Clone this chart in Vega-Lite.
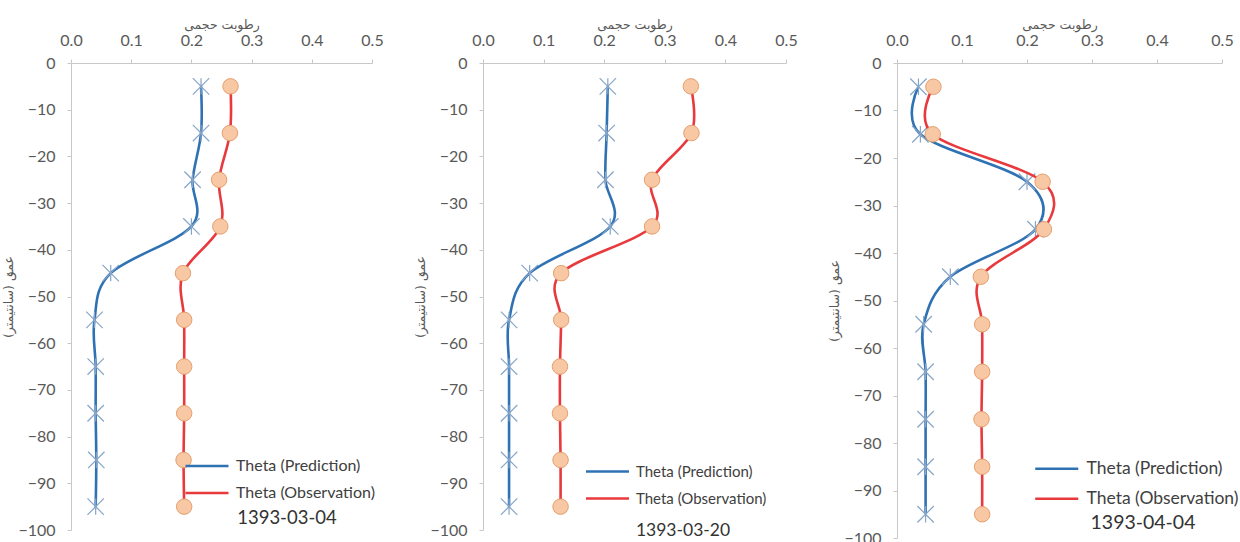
{
  "$schema": "https://vega.github.io/schema/vega-lite/v6.json",
  "autosize": {"type": "pad"},
  "padding": {"left": 2, "top": 18, "right": 0, "bottom": 0},
  "background": "white",
  "bounds": "flush",
  "spacing": 111,
  "data": {"values": [
    {"date": "1393-03-04", "series": "Theta (Prediction)", "depth": -5, "theta": 0.216},
    {"date": "1393-03-04", "series": "Theta (Prediction)", "depth": -15, "theta": 0.216},
    {"date": "1393-03-04", "series": "Theta (Prediction)", "depth": -25, "theta": 0.202},
    {"date": "1393-03-04", "series": "Theta (Prediction)", "depth": -35, "theta": 0.200},
    {"date": "1393-03-04", "series": "Theta (Prediction)", "depth": -45, "theta": 0.066},
    {"date": "1393-03-04", "series": "Theta (Prediction)", "depth": -55, "theta": 0.039},
    {"date": "1393-03-04", "series": "Theta (Prediction)", "depth": -65, "theta": 0.041},
    {"date": "1393-03-04", "series": "Theta (Prediction)", "depth": -75, "theta": 0.041},
    {"date": "1393-03-04", "series": "Theta (Prediction)", "depth": -85, "theta": 0.042},
    {"date": "1393-03-04", "series": "Theta (Prediction)", "depth": -95, "theta": 0.041},
    {"date": "1393-03-04", "series": "Theta (Observation)", "depth": -5, "theta": 0.265},
    {"date": "1393-03-04", "series": "Theta (Observation)", "depth": -15, "theta": 0.264},
    {"date": "1393-03-04", "series": "Theta (Observation)", "depth": -25, "theta": 0.246},
    {"date": "1393-03-04", "series": "Theta (Observation)", "depth": -35, "theta": 0.248},
    {"date": "1393-03-04", "series": "Theta (Observation)", "depth": -45, "theta": 0.186},
    {"date": "1393-03-04", "series": "Theta (Observation)", "depth": -55, "theta": 0.188},
    {"date": "1393-03-04", "series": "Theta (Observation)", "depth": -65, "theta": 0.188},
    {"date": "1393-03-04", "series": "Theta (Observation)", "depth": -75, "theta": 0.188},
    {"date": "1393-03-04", "series": "Theta (Observation)", "depth": -85, "theta": 0.187},
    {"date": "1393-03-04", "series": "Theta (Observation)", "depth": -95, "theta": 0.188},
    {"date": "1393-03-20", "series": "Theta (Prediction)", "depth": -5, "theta": 0.206},
    {"date": "1393-03-20", "series": "Theta (Prediction)", "depth": -15, "theta": 0.204},
    {"date": "1393-03-20", "series": "Theta (Prediction)", "depth": -25, "theta": 0.202},
    {"date": "1393-03-20", "series": "Theta (Prediction)", "depth": -35, "theta": 0.210},
    {"date": "1393-03-20", "series": "Theta (Prediction)", "depth": -45, "theta": 0.077},
    {"date": "1393-03-20", "series": "Theta (Prediction)", "depth": -55, "theta": 0.043},
    {"date": "1393-03-20", "series": "Theta (Prediction)", "depth": -65, "theta": 0.043},
    {"date": "1393-03-20", "series": "Theta (Prediction)", "depth": -75, "theta": 0.043},
    {"date": "1393-03-20", "series": "Theta (Prediction)", "depth": -85, "theta": 0.043},
    {"date": "1393-03-20", "series": "Theta (Prediction)", "depth": -95, "theta": 0.043},
    {"date": "1393-03-20", "series": "Theta (Observation)", "depth": -5, "theta": 0.343},
    {"date": "1393-03-20", "series": "Theta (Observation)", "depth": -15, "theta": 0.344},
    {"date": "1393-03-20", "series": "Theta (Observation)", "depth": -25, "theta": 0.279},
    {"date": "1393-03-20", "series": "Theta (Observation)", "depth": -35, "theta": 0.279},
    {"date": "1393-03-20", "series": "Theta (Observation)", "depth": -45, "theta": 0.129},
    {"date": "1393-03-20", "series": "Theta (Observation)", "depth": -55, "theta": 0.129},
    {"date": "1393-03-20", "series": "Theta (Observation)", "depth": -65, "theta": 0.127},
    {"date": "1393-03-20", "series": "Theta (Observation)", "depth": -75, "theta": 0.127},
    {"date": "1393-03-20", "series": "Theta (Observation)", "depth": -85, "theta": 0.128},
    {"date": "1393-03-20", "series": "Theta (Observation)", "depth": -95, "theta": 0.128},
    {"date": "1393-04-04", "series": "Theta (Prediction)", "depth": -5, "theta": 0.033},
    {"date": "1393-04-04", "series": "Theta (Prediction)", "depth": -15, "theta": 0.036},
    {"date": "1393-04-04", "series": "Theta (Prediction)", "depth": -25, "theta": 0.200},
    {"date": "1393-04-04", "series": "Theta (Prediction)", "depth": -35, "theta": 0.213},
    {"date": "1393-04-04", "series": "Theta (Prediction)", "depth": -45, "theta": 0.082},
    {"date": "1393-04-04", "series": "Theta (Prediction)", "depth": -55, "theta": 0.041},
    {"date": "1393-04-04", "series": "Theta (Prediction)", "depth": -65, "theta": 0.044},
    {"date": "1393-04-04", "series": "Theta (Prediction)", "depth": -75, "theta": 0.044},
    {"date": "1393-04-04", "series": "Theta (Prediction)", "depth": -85, "theta": 0.044},
    {"date": "1393-04-04", "series": "Theta (Prediction)", "depth": -95, "theta": 0.044},
    {"date": "1393-04-04", "series": "Theta (Observation)", "depth": -5, "theta": 0.056},
    {"date": "1393-04-04", "series": "Theta (Observation)", "depth": -15, "theta": 0.055},
    {"date": "1393-04-04", "series": "Theta (Observation)", "depth": -25, "theta": 0.224},
    {"date": "1393-04-04", "series": "Theta (Observation)", "depth": -35, "theta": 0.226},
    {"date": "1393-04-04", "series": "Theta (Observation)", "depth": -45, "theta": 0.129},
    {"date": "1393-04-04", "series": "Theta (Observation)", "depth": -55, "theta": 0.131},
    {"date": "1393-04-04", "series": "Theta (Observation)", "depth": -65, "theta": 0.131},
    {"date": "1393-04-04", "series": "Theta (Observation)", "depth": -75, "theta": 0.130},
    {"date": "1393-04-04", "series": "Theta (Observation)", "depth": -85, "theta": 0.131},
    {"date": "1393-04-04", "series": "Theta (Observation)", "depth": -95, "theta": 0.131}
  ]},
  "hconcat": [
    {
      "width": 301, "height": 467,
      "transform": [{"filter": {"field": "date", "equal": "1393-03-04"}}],
      "encoding": {
        "x": {"field": "theta", "type": "quantitative", "scale": {"domain": [0, 0.5], "nice": false},
          "axis": {"orient": "top", "values": [0, 0.1, 0.2, 0.3, 0.4, 0.5], "format": ".1f", "title": "رطوبت حجمی", "tickSize": 4, "labelPadding": 11, "titlePadding": 1, "labelFlush": false}},
        "y": {"field": "depth", "type": "quantitative", "scale": {"domain": [-100, 0], "nice": false},
          "axis": {"values": [0, -10, -20, -30, -40, -50, -60, -70, -80, -90, -100], "title": "عمق (سانتیمتر)", "tickSize": 4, "labelPadding": 12, "titlePadding": 2, "labelFlush": false}}
      },
      "layer": [
        {"transform": [{"filter": {"field": "series", "equal": "Theta (Prediction)"}}],
         "mark": {"type": "line", "interpolate": "cardinal", "strokeWidth": 2.6},
         "encoding": {"order": {"field": "depth", "sort": "descending"},
           "color": {"field": "series", "type": "nominal", "scale": {"domain": ["Theta (Prediction)", "Theta (Observation)"], "range": ["#2f72b4", "#e8393d"]},
             "legend": {"title": "1393-03-04", "legendX": 128, "legendY": 395, "labelFontSize": 16, "titleFontSize": 18.5, "titlePadding": 8}}}},
        {"transform": [{"filter": {"field": "series", "equal": "Theta (Prediction)"}}],
         "mark": {"type": "point", "shape": "M-1,-1L1,1M-1,1L1,-1M0,-1L0,1", "filled": false, "stroke": "#86a5c8", "strokeWidth": 1.2, "size": 270, "opacity": 1}},
        {"transform": [{"filter": {"field": "series", "equal": "Theta (Observation)"}}],
         "mark": {"type": "line", "interpolate": "cardinal", "strokeWidth": 2.6},
         "encoding": {"order": {"field": "depth", "sort": "descending"},
           "color": {"field": "series", "type": "nominal"}}},
        {"transform": [{"filter": {"field": "series", "equal": "Theta (Observation)"}}],
         "mark": {"type": "point", "shape": "circle", "filled": true, "fill": "#f8c7a4", "stroke": "#e4a06f", "strokeWidth": 1, "size": 240, "opacity": 1}}
      ]
    },
    {
      "width": 303, "height": 467,
      "transform": [{"filter": {"field": "date", "equal": "1393-03-20"}}],
      "encoding": {
        "x": {"field": "theta", "type": "quantitative", "scale": {"domain": [0, 0.5], "nice": false},
          "axis": {"orient": "top", "values": [0, 0.1, 0.2, 0.3, 0.4, 0.5], "format": ".1f", "title": "رطوبت حجمی", "tickSize": 4, "labelPadding": 11, "titlePadding": 1, "labelFlush": false}},
        "y": {"field": "depth", "type": "quantitative", "scale": {"domain": [-100, 0], "nice": false},
          "axis": {"values": [0, -10, -20, -30, -40, -50, -60, -70, -80, -90, -100], "title": "عمق (سانتیمتر)", "tickSize": 4, "labelPadding": 12, "titlePadding": 2, "labelFlush": false}}
      },
      "layer": [
        {"transform": [{"filter": {"field": "series", "equal": "Theta (Prediction)"}}],
         "mark": {"type": "line", "interpolate": "cardinal", "strokeWidth": 2.6},
         "encoding": {"order": {"field": "depth", "sort": "descending"},
           "color": {"field": "series", "type": "nominal", "scale": {"domain": ["Theta (Prediction)", "Theta (Observation)"], "range": ["#2f72b4", "#e8393d"]},
             "legend": {"title": "1393-03-20", "legendX": 117, "legendY": 401, "labelFontSize": 15, "titleFontSize": 17.5, "titlePadding": 15}}}},
        {"transform": [{"filter": {"field": "series", "equal": "Theta (Prediction)"}}],
         "mark": {"type": "point", "shape": "M-1,-1L1,1M-1,1L1,-1M0,-1L0,1", "filled": false, "stroke": "#86a5c8", "strokeWidth": 1.2, "size": 270, "opacity": 1}},
        {"transform": [{"filter": {"field": "series", "equal": "Theta (Observation)"}}],
         "mark": {"type": "line", "interpolate": "cardinal", "strokeWidth": 2.6},
         "encoding": {"order": {"field": "depth", "sort": "descending"},
           "color": {"field": "series", "type": "nominal"}}},
        {"transform": [{"filter": {"field": "series", "equal": "Theta (Observation)"}}],
         "mark": {"type": "point", "shape": "circle", "filled": true, "fill": "#f8c7a4", "stroke": "#e4a06f", "strokeWidth": 1, "size": 240, "opacity": 1}}
      ]
    },
    {
      "width": 325, "height": 475,
      "transform": [{"filter": {"field": "date", "equal": "1393-04-04"}}],
      "encoding": {
        "x": {"field": "theta", "type": "quantitative", "scale": {"domain": [0, 0.5], "nice": false},
          "axis": {"orient": "top", "values": [0, 0.1, 0.2, 0.3, 0.4, 0.5], "format": ".1f", "title": "رطوبت حجمی", "tickSize": 4, "labelPadding": 11, "titlePadding": 1, "labelFlush": false}},
        "y": {"field": "depth", "type": "quantitative", "scale": {"domain": [-100, 0], "nice": false},
          "axis": {"values": [0, -10, -20, -30, -40, -50, -60, -70, -80, -90, -100], "title": "عمق (سانتیمتر)", "tickSize": 4, "labelPadding": 12, "titlePadding": 2, "labelFlush": false}}
      },
      "layer": [
        {"transform": [{"filter": {"field": "series", "equal": "Theta (Prediction)"}}],
         "mark": {"type": "line", "interpolate": "cardinal", "strokeWidth": 2.6},
         "encoding": {"order": {"field": "depth", "sort": "descending"},
           "color": {"field": "series", "type": "nominal", "scale": {"domain": ["Theta (Prediction)", "Theta (Observation)"], "range": ["#2f72b4", "#e8393d"]},
             "legend": {"title": "1393-04-04", "legendX": 151, "legendY": 397, "labelFontSize": 17.5, "titleFontSize": 19.5, "titlePadding": 7}}}},
        {"transform": [{"filter": {"field": "series", "equal": "Theta (Prediction)"}}],
         "mark": {"type": "point", "shape": "M-1,-1L1,1M-1,1L1,-1M0,-1L0,1", "filled": false, "stroke": "#86a5c8", "strokeWidth": 1.2, "size": 270, "opacity": 1}},
        {"transform": [{"filter": {"field": "series", "equal": "Theta (Observation)"}}],
         "mark": {"type": "line", "interpolate": "cardinal", "strokeWidth": 2.6},
         "encoding": {"order": {"field": "depth", "sort": "descending"},
           "color": {"field": "series", "type": "nominal"}}},
        {"transform": [{"filter": {"field": "series", "equal": "Theta (Observation)"}}],
         "mark": {"type": "point", "shape": "circle", "filled": true, "fill": "#f8c7a4", "stroke": "#e4a06f", "strokeWidth": 1, "size": 240, "opacity": 1}}
      ]
    }
  ],
  "resolve": {"scale": {"color": "independent"}, "legend": {"color": "independent"}},
  "config": {
    "view": {"stroke": null},
    "font": "Lato",
    "axis": {"grid": false, "domainColor": "#c8c8c8", "tickColor": "#c8c8c8", "labelColor": "#595959", "labelFont": "Lato", "labelFontSize": 16, "titleFont": "DejaVu Sans", "titleFontSize": 12.5, "titleFontWeight": "normal", "titleColor": "#595959"},
    "legend": {"orient": "none", "labelFont": "Lato", "labelColor": "#404040", "symbolType": "M-4.3,0H4.3", "symbolSize": 100, "symbolStrokeWidth": 2.6, "labelOffset": 21, "rowPadding": 11, "titleOrient": "bottom", "titleFontWeight": "normal", "titleColor": "#333333", "titleFont": "Lato", "titleAnchor": "middle", "labelLimit": 0}
  }
}
